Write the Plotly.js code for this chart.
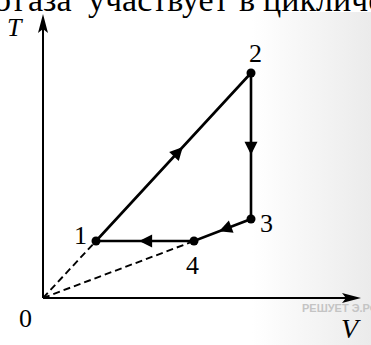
<!DOCTYPE html>
<html>
<head>
<meta charset="utf-8">
<script src="https://cdn.plot.ly/plotly-3.0.1.min.js"></script>
<style>
html,body{margin:0;padding:0;background:#fff;}
#wrap{position:relative;width:371px;height:345px;overflow:hidden;}
#bg{position:absolute;left:0;top:12px;width:371px;height:333px;background:linear-gradient(to right,#ffffff 68%,#ebebeb 100%);}
#chart{position:absolute;left:0;top:0;width:371px;height:345px;}
</style>
</head>
<body>
<div id="wrap"><div id="bg"></div><div id="chart"></div></div>
<script>
// Cycle states 1..4 (V, T in arbitrary units)
const stateLabels = ['1', '2', '3', '4'];
const V = [5.3, 20.8, 20.8, 15.1];
const T = [5.7, 22.5, 7.9, 5.7];
// axis extents
const axisV = 31.8;
const axisT = 28.4;
// cropped heading words above the figure
const headWords = ['о', 'газа', 'участвует', 'в', 'циклическом'];
const headX = [-8, 12, 86, 237, 261];
const watermark = 'РЕШУЕТ Э.РФ';

const W = 371, H = 345;
const xr = [-4.3, 32.8], yr = [-4.7, 29.8];

const black = '#000';
const traces = [];
// axes
traces.push({x: [0, 0, null, 0, axisV - 1.2], y: [axisT - 1.2, 0, null, 0, 0], mode: 'lines',
  line: {color: black, width: 2}, hoverinfo: 'skip', showlegend: false});
// dashed lines from origin to states 1 and 4
traces.push({x: [0, V[0], null, 0, V[3]], y: [0, T[0], null, 0, T[3]], mode: 'lines',
  line: {color: black, width: 1.9, dash: '7px,4px'}, hoverinfo: 'skip', showlegend: false});
// cycle
traces.push({x: V.concat([V[0]]), y: T.concat([T[0]]), mode: 'lines',
  line: {color: black, width: 2.6}, hoverinfo: 'skip', showlegend: false});
// state points
traces.push({x: V, y: T, mode: 'markers', marker: {color: black, size: 9},
  hoverinfo: 'skip', showlegend: false});

// axis arrowheads (narrow, slightly concave) computed from axis extents
const L = 1.9, hw = 0.5, notch = 1.5;
const shapes = [
  {type: 'path', xref: 'x', yref: 'y', fillcolor: black, line: {width: 0},
   path: `M0,${axisT} L${-hw},${axisT - L} L0,${axisT - notch} L${hw},${axisT - L} Z`},
  {type: 'path', xref: 'x', yref: 'y', fillcolor: black, line: {width: 0},
   path: `M${axisV},0 L${axisV - L},${-hw} L${axisV - notch},0 L${axisV - L},${hw} Z`}
];

const annotations = [];
// direction arrows on each process
const f = 0.56;
for (let i = 0; i < V.length; i++) {
  const j = (i + 1) % V.length;
  const dx = V[j] - V[i], dy = T[j] - T[i];
  const len = Math.hypot(dx, dy);
  const tx = V[i] + f * dx, ty = T[i] + f * dy;
  annotations.push({x: tx, y: ty, ax: tx - 0.8 * dx / len, ay: ty - 0.8 * dy / len,
    xref: 'x', yref: 'y', axref: 'x', ayref: 'y', text: '', showarrow: true,
    arrowhead: 2, arrowsize: 1, arrowwidth: 2.6, arrowcolor: black, standoff: 0, startstandoff: 0});
}
const serif = 'Liberation Serif';
const lblShift = [[-16, 6], [4, 20], [15, -4], [-2, -24]];
for (let i = 0; i < V.length; i++) {
  annotations.push({x: V[i], y: T[i], xref: 'x', yref: 'y', text: stateLabels[i], showarrow: false,
    xshift: lblShift[i][0], yshift: lblShift[i][1], font: {family: serif, size: 26, color: black}});
}
annotations.push({x: 0, y: 0, xref: 'x', yref: 'y', text: '0', showarrow: false, xshift: -18, yshift: -20,
  font: {family: serif, size: 26, color: black}});
annotations.push({x: 0, y: axisT, xref: 'x', yref: 'y', text: 'T', showarrow: false, xshift: -28, yshift: -13,
  font: {family: serif, size: 26, color: black, style: 'italic'}});
annotations.push({x: axisV, y: 0, xref: 'x', yref: 'y', text: 'V', showarrow: false, xshift: -10, yshift: -30,
  font: {family: serif, size: 28, color: black, style: 'italic'}});
annotations.push({x: 300 / W, y: 1 - 308 / H, xref: 'paper', yref: 'paper', xanchor: 'left', yanchor: 'middle',
  text: watermark, showarrow: false, font: {family: 'Liberation Sans', size: 11, color: '#c4c4c4', weight: 'bold'}});
for (let k = 0; k < headWords.length; k++) {
  annotations.push({x: headX[k] / W, y: 1 + 21 / H, xref: 'paper', yref: 'paper', xanchor: 'left', yanchor: 'top',
    text: headWords[k], showarrow: false, font: {family: serif, size: 34, color: black}});
}

const layout = {
  width: W, height: H, autosize: false,
  margin: {l: 0, r: 0, t: 0, b: 0, pad: 0},
  paper_bgcolor: 'rgba(0,0,0,0)', plot_bgcolor: 'rgba(0,0,0,0)',
  xaxis: {range: xr, visible: false, fixedrange: true},
  yaxis: {range: yr, visible: false, fixedrange: true},
  shapes: shapes, annotations: annotations, showlegend: false
};
Plotly.newPlot('chart', traces, layout, {staticPlot: true, displayModeBar: false});
</script>
</body>
</html>
